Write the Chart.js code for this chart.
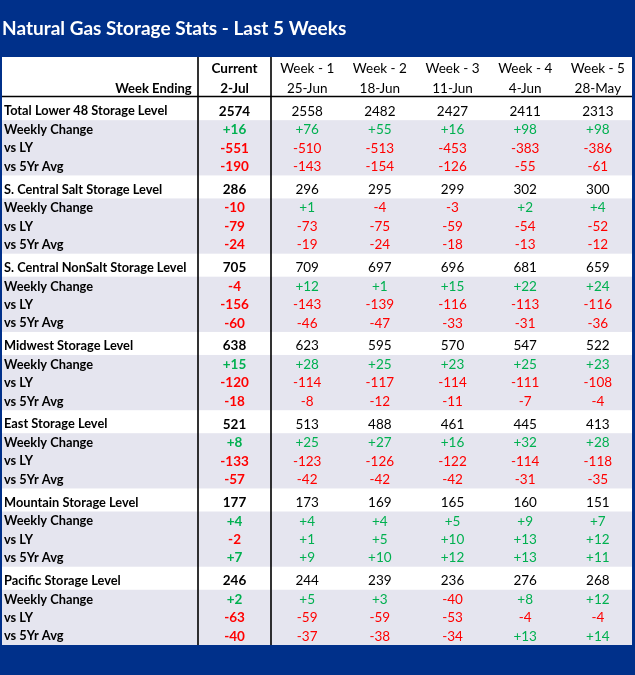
<!DOCTYPE html>
<html>
<head>
<meta charset="utf-8">
<script src="https://cdn.jsdelivr.net/npm/chart.js@4"></script>
<style>
  html, body { margin: 0; padding: 0; background: #00308a; }
  canvas { display: block; }
</style>
</head>
<body>
<canvas id="storageTable" width="635" height="675"></canvas>
<script>
const titleText = 'Natural Gas Storage Stats - Last 5 Weeks';
const weekLabels = ['Current', 'Week - 1', 'Week - 2', 'Week - 3', 'Week - 4', 'Week - 5'];
const weekEnding = ['2-Jul', '25-Jun', '18-Jun', '11-Jun', '4-Jun', '28-May'];
const regions = ['Total Lower 48', 'S. Central Salt', 'S. Central NonSalt', 'Midwest', 'East', 'Mountain', 'Pacific'];
const subLabels = ['Weekly Change', 'vs LY', 'vs 5Yr Avg'];

// one row per region, columns = Current, Week-1 .. Week-5
const storageLevel = [
    [2574, 2558, 2482, 2427, 2411, 2313],
    [286, 296, 295, 299, 302, 300],
    [705, 709, 697, 696, 681, 659],
    [638, 623, 595, 570, 547, 522],
    [521, 513, 488, 461, 445, 413],
    [177, 173, 169, 165, 160, 151],
    [246, 244, 239, 236, 276, 268],
];
const weeklyChange = [
    [16, 76, 55, 16, 98, 98],
    [-10, 1, -4, -3, 2, 4],
    [-4, 12, 1, 15, 22, 24],
    [15, 28, 25, 23, 25, 23],
    [8, 25, 27, 16, 32, 28],
    [4, 4, 4, 5, 9, 7],
    [2, 5, 3, -40, 8, 12],
];
const vsLastYear = [
    [-551, -510, -513, -453, -383, -386],
    [-79, -73, -75, -59, -54, -52],
    [-156, -143, -139, -116, -113, -116],
    [-120, -114, -117, -114, -111, -108],
    [-133, -123, -126, -122, -114, -118],
    [-2, 1, 5, 10, 13, 12],
    [-63, -59, -59, -53, -4, -4],
];
const vs5YrAvg = [
    [-190, -143, -154, -126, -55, -61],
    [-24, -19, -24, -18, -13, -12],
    [-60, -46, -47, -33, -31, -36],
    [-18, -8, -12, -11, -7, -4],
    [-57, -42, -42, -42, -31, -35],
    [7, 9, 10, 12, 13, 11],
    [-40, -37, -38, -34, 13, 14],
];

// row layout in y-scale units
const HEADER_H = 2.18;
const LEVEL_H = 1.25;
const SUB_H = 1;
const GROUP_H = LEVEL_H + 3 * SUB_H;

const FONT = 'Lato, "DejaVu Sans", sans-serif';
const BLUE = '#00308a';
const SHADE = '#e5e5ef';
const GREEN = '#00b050';
const RED = '#ff0000';

function fmtChange(v) {
    return (v > 0 ? '+' : '') + v;
}

const tablePlugin = {
    id: 'tablePlugin',
    beforeDraw(chart) {
        const ctx = chart.ctx;
        const area = chart.chartArea;
        ctx.save();
        ctx.fillStyle = BLUE;
        ctx.fillRect(0, 0, chart.width, chart.height);
        ctx.fillStyle = '#ffffff';
        ctx.fillRect(area.left, area.top, area.right - area.left, area.bottom - area.top);
        ctx.restore();
    },
    afterDraw(chart) {
        const ctx = chart.ctx;
        const x = chart.scales.x;
        const y = chart.scales.y;
        const area = chart.chartArea;
        const left = area.left, right = area.right;
        ctx.save();

        // shaded sub rows
        ctx.fillStyle = SHADE;
        regions.forEach((r, g) => {
            const top = y.getPixelForValue(HEADER_H + g * GROUP_H + LEVEL_H);
            const bot = y.getPixelForValue(HEADER_H + (g + 1) * GROUP_H);
            ctx.fillRect(left, top, right - left, bot - top);
        });

        // header
        ctx.textBaseline = 'middle';
        ctx.fillStyle = '#000';
        ctx.textAlign = 'right';
        ctx.font = 'bold 13px ' + FONT;
        ctx.fillText('Week Ending', x.getPixelForValue(-0.09), y.getPixelForValue(1.72));
        ctx.textAlign = 'center';
        weekLabels.forEach((w, i) => {
            const cx = x.getPixelForValue(i + 0.5);
            ctx.font = (i === 0 ? 'bold ' : '') + '13.5px ' + FONT;
            ctx.fillText(w, cx, y.getPixelForValue(0.64));
            ctx.fillText(weekEnding[i], cx, y.getPixelForValue(1.72));
        });

        // body rows
        regions.forEach((r, g) => {
            const base = HEADER_H + g * GROUP_H;
            const yLevel = y.getPixelForValue(base + LEVEL_H * 0.5) + 2.5;
            ctx.textAlign = 'left';
            ctx.fillStyle = '#000';
            ctx.font = 'bold 12.8px ' + FONT;
            ctx.fillText(r + ' Storage Level', left + 2, yLevel);
            ctx.textAlign = 'center';
            storageLevel[g].forEach((v, i) => {
                ctx.font = (i === 0 ? 'bold ' : '') + '13.5px ' + FONT;
                ctx.fillText(String(v), x.getPixelForValue(i + 0.5), yLevel);
            });

            [weeklyChange, vsLastYear, vs5YrAvg].forEach((series, k) => {
                const yy = y.getPixelForValue(base + LEVEL_H + k * SUB_H + 0.5) + 0.5;
                ctx.textAlign = 'left';
                ctx.fillStyle = '#000';
                ctx.font = 'bold 12.8px ' + FONT;
                ctx.fillText(subLabels[k], left + 2, yy);
                ctx.textAlign = 'center';
                series[g].forEach((v, i) => {
                    ctx.font = (i === 0 ? 'bold ' : '') + '13.5px ' + FONT;
                    ctx.fillStyle = v >= 0 ? GREEN : RED;
                    ctx.fillText(fmtChange(v), x.getPixelForValue(i + 0.5), yy);
                });
            });
        });

        // grid lines
        ctx.strokeStyle = '#000';
        ctx.lineWidth = 1.6;
        ctx.beginPath();
        const yHead = Math.round(y.getPixelForValue(HEADER_H)) - 0.5;
        ctx.moveTo(left, yHead);
        ctx.lineTo(right, yHead);
        [0, 1].forEach(i => {
            const xx = Math.round(x.getPixelForValue(i));
            ctx.moveTo(xx, area.top);
            ctx.lineTo(xx, area.bottom);
        });
        ctx.stroke();
        ctx.restore();
    }
};

const config = {
    type: 'scatter',
    data: { datasets: [{ data: [], pointRadius: 0 }] },
    options: {
        responsive: false,
        animation: false,
        events: [],
        layout: { padding: { left: 2, right: 3, top: 0, bottom: 30 } },
        scales: {
            x: { type: 'linear', display: false, min: -2.7, max: 5.97 },
            y: { type: 'linear', display: false, reverse: true, min: 0, max: 31.93 }
        },
        plugins: {
            legend: { display: false },
            tooltip: { enabled: false },
            title: {
                display: true,
                text: titleText,
                align: 'start',
                color: '#ffffff',
                font: { family: FONT, size: 19, weight: 'bold', lineHeight: 1.2 },
                padding: { top: 17, bottom: 17.2 }
            }
        }
    },
    plugins: [tablePlugin]
};

var storageChart = new Chart(document.getElementById('storageTable'), config);
</script>
</body>
</html>
